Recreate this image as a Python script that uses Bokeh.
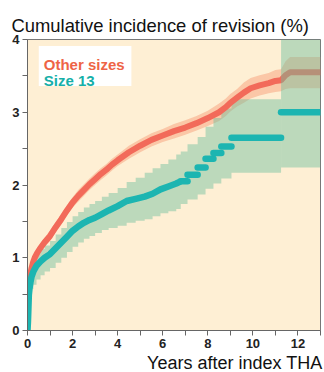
from bokeh.plotting import figure
from bokeh.models import FixedTicker, Label, BoxAnnotation, Range1d, Title
from bokeh.embed import file_html
from bokeh.resources import INLINE

# ---- data ----
title_text = "Cumulative incidence of revision (%)"
xlabel_text = "Years after index THA"
series_names = ["Other sizes", "Size 13"]

x_ticks = [0, 2, 4, 6, 8, 10, 12]
x_minor = [1, 3, 5, 7, 9, 11, 13]
y_ticks = [0, 1, 2, 3, 4]
y_minor = [0.5, 1.5, 2.5, 3.5]

# Other sizes
t_os = [0, 0.04, 0.08, 0.12, 0.18, 0.25, 0.32, 0.42, 0.54, 0.75,
        1.0, 1.25, 1.5, 1.75, 2.0,
        2.25, 2.5, 2.75, 3.0, 3.25, 3.5, 3.75, 4.0,
        4.5, 5.0, 5.5, 6.0,
        6.5, 7.0, 7.5, 8.0,
        8.5, 8.8, 9.0, 9.3,
        9.6, 9.9, 10.3, 10.7,
        11.0, 11.25,
        11.45, 11.65, 13]
v_os = [0.55, 0.62, 0.70, 0.77, 0.86, 0.94, 1.00, 1.06, 1.12, 1.21,
        1.30, 1.42, 1.53, 1.65, 1.76,
        1.85, 1.93, 2.01, 2.08, 2.15, 2.21, 2.28, 2.34,
        2.45, 2.54, 2.62, 2.68,
        2.74, 2.79, 2.85, 2.92,
        3.00, 3.07, 3.13, 3.20,
        3.27, 3.33, 3.37, 3.40,
        3.43, 3.44,
        3.51, 3.55, 3.55]
lo_os = [0.49, 0.56, 0.64, 0.71, 0.80, 0.88, 0.94, 1.00, 1.06, 1.15,
         1.23, 1.35, 1.46, 1.58, 1.69,
         1.77, 1.85, 1.93, 2.00, 2.07, 2.13, 2.20, 2.26,
         2.36, 2.45, 2.53, 2.59,
         2.64, 2.69, 2.75, 2.81,
         2.88, 2.95, 3.01, 3.08,
         3.13, 3.19, 3.23, 3.26,
         3.28, 3.29,
         3.32, 3.33, 3.33]
hi_os = [0.61, 0.68, 0.76, 0.83, 0.92, 1.00, 1.06, 1.12, 1.18, 1.27,
         1.37, 1.49, 1.60, 1.72, 1.83,
         1.93, 2.01, 2.09, 2.16, 2.23, 2.29, 2.36, 2.42,
         2.54, 2.63, 2.71, 2.77,
         2.84, 2.89, 2.95, 3.02,
         3.12, 3.19, 3.25, 3.32,
         3.41, 3.47, 3.51, 3.54,
         3.58, 3.59,
         3.70, 3.76, 3.76]

# Size 13
t13 = [0, 0.02, 0.04, 0.06, 0.09, 0.13, 0.18, 0.26, 0.4, 0.58,
       0.76, 1.0, 1.25, 1.5, 1.75, 2.0, 2.25, 2.5, 2.75, 3.0,
       3.3, 3.6, 4.0, 4.4, 4.8, 5.2, 5.55, 5.9, 6.25, 6.6,
       6.8, 7.1, 7.55, 7.9, 8.25, 8.6, 9.05, 11.25, 13]
v13 = [0, 0.12, 0.30, 0.49, 0.58, 0.66, 0.74, 0.81, 0.89, 0.95,
       1.00, 1.05, 1.13, 1.21, 1.29, 1.37, 1.43, 1.48, 1.52, 1.55,
       1.60, 1.65, 1.71, 1.78, 1.81, 1.84, 1.88, 1.94, 1.98, 2.02,
       2.05, 2.14, 2.24, 2.36, 2.44, 2.53, 2.65, 3.00, 3.00]
lo13 = [0, 0.05, 0.18, 0.33, 0.42, 0.50, 0.57, 0.63, 0.70, 0.76,
        0.81, 0.86, 0.93, 1.00, 1.08, 1.15, 1.21, 1.26, 1.30, 1.34,
        1.38, 1.41, 1.44, 1.48, 1.51, 1.53, 1.57, 1.61, 1.64, 1.67,
        1.74, 1.80, 1.87, 1.95, 2.02, 2.09, 2.17, 2.24, 2.24]
hi13 = [0, 0.20, 0.42, 0.65, 0.74, 0.82, 0.90, 0.98, 1.06, 1.12,
        1.17, 1.23, 1.32, 1.41, 1.49, 1.57, 1.63, 1.69, 1.74, 1.78,
        1.84, 1.89, 1.96, 2.04, 2.10, 2.17, 2.23, 2.29, 2.35, 2.42,
        2.46, 2.56, 2.66, 2.80, 2.92, 3.05, 3.18, 4.00, 4.00]

# index where Size 13 curve turns into separate plateaus, and where wide CI begins
cut_line = 30
cut_band = 37

# ---- style ----
BG = "#FEEFD4"
RED = "#F26A5A"
TEAL = "#1CB5B1"
ORANGE_BAND = "#F7A07A"
GREEN_BAND = "#6DBF9E"
FONT = "Liberation Sans"

p = figure(width=324, height=372, output_backend="svg", toolbar_location=None,
           x_range=Range1d(0, 13), y_range=Range1d(0, 4),
           min_border_left=27, min_border_right=4, min_border_top=39, min_border_bottom=38)
p.background_fill_color = BG
p.border_fill_color = "white"
p.outline_line_color = "#777777"
p.grid.visible = False

# top title
p.title.text = title_text
p.title.align = "left"
p.title.offset = -16
p.title.standoff = 8
p.title.text_font = FONT
p.title.text_font_size = "18.4px"
p.title.text_font_style = "normal"
p.title.text_color = "#111111"

# bands and lines
p.varea(x=t_os, y1=lo_os, y2=hi_os, fill_color=ORANGE_BAND, fill_alpha=0.5)
p.varea_step(x=t13[:cut_band + 1], y1=lo13[:cut_band + 1], y2=hi13[:cut_band + 1],
             step_mode="after", fill_color=GREEN_BAND, fill_alpha=0.45)
p.line(t_os, v_os, line_color=RED, line_width=6)
p.varea_step(x=t13[cut_band:], y1=lo13[cut_band:], y2=hi13[cut_band:],
             step_mode="after", fill_color=GREEN_BAND, fill_alpha=0.45)
p.line(t13[:cut_line + 1], v13[:cut_line + 1], line_color=TEAL, line_width=6.5)
p.segment(x0=t13[cut_line:-1], y0=v13[cut_line:-1], x1=t13[cut_line + 1:], y1=v13[cut_line:-1],
          line_color=TEAL, line_width=6.5, line_cap="round")

# axes
for ax, maj, mnr in ((p.xaxis[0], x_ticks, x_minor), (p.yaxis[0], y_ticks, y_minor)):
    ax.ticker = FixedTicker(ticks=maj, minor_ticks=mnr)
    ax.axis_line_color = "#666666"
    ax.major_tick_line_color = "#666666"
    ax.minor_tick_line_color = "#666666"
    ax.major_tick_in = 0
    ax.major_tick_out = 5
    ax.minor_tick_in = 0
    ax.minor_tick_out = 5
    ax.major_label_text_font = FONT
    ax.major_label_text_font_style = "bold"
    ax.major_label_text_font_size = "13px"
    ax.major_label_text_color = "#222222"
    ax.major_label_standoff = 3

# x label as a right-aligned title below the axis
p.add_layout(Title(text=xlabel_text, align="right", offset=-2, standoff=0,
                   text_font=FONT, text_font_size="18px", text_font_style="normal",
                   text_color="#111111"), "below")

# legend box (annotation)
p.add_layout(BoxAnnotation(left=0.5, right=4.61, bottom=3.36, top=3.91,
                           fill_color="white", fill_alpha=1, line_color=None))
p.add_layout(Label(x=0.72, y=3.65, text=series_names[0], text_color="#EE6446",
                   text_font=FONT, text_font_style="bold", text_font_size="15px",
                   text_baseline="alphabetic"))
p.add_layout(Label(x=0.72, y=3.44, text=series_names[1], text_color="#16AFA8",
                   text_font=FONT, text_font_style="bold", text_font_size="15px",
                   text_baseline="alphabetic"))

open("out.html", "w").write(file_html(p, INLINE))
